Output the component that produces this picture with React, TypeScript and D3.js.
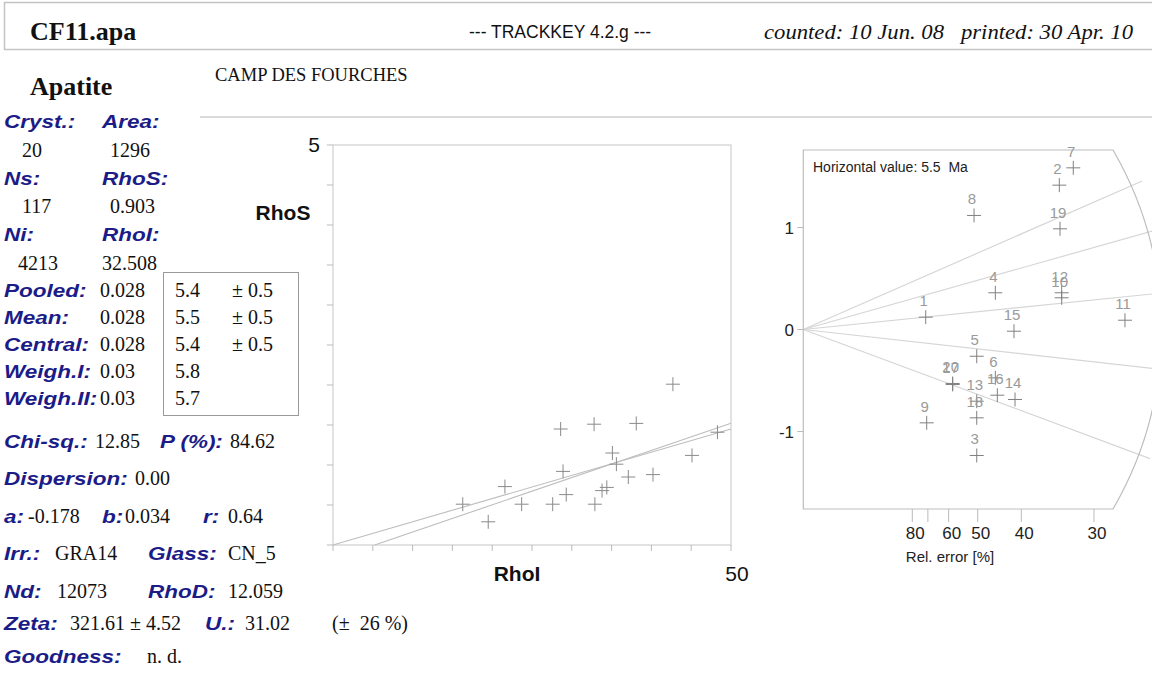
import React from "react";
import * as d3 from "d3";

// ---------- data ----------
const sampleName = "CF11.apa";
const programName = "--- TRACKKEY 4.2.g ---";
const datesText = "counted: 10 Jun. 08   printed: 30 Apr. 10";
const mineral = "Apatite";
const locality = "CAMP DES FOURCHES";

// scatter RhoI (x) vs RhoS (y), one entry per crystal
const grainRhoI = [16.3, 19.5, 21.6, 23.7, 27.6, 28.6, 28.9, 29.3, 32.8, 32.9, 33.8, 34.4, 35.1, 35.6, 37.1, 38.1, 40.2, 42.7, 45.1, 48.3];
const grainRhoS = [0.51, 0.29, 0.73, 0.51, 0.51, 1.45, 0.92, 0.63, 1.51, 0.51, 0.68, 0.72, 1.15, 1.01, 0.85, 1.52, 0.88, 2.01, 1.12, 1.41];
const regA = -0.178;
const regB = 0.034;
const originSlope = 0.029;
const scatterYTicks = [0, 0.5, 1, 1.5, 2, 2.5, 3, 3.5, 4, 4.5, 5];
const scatterXTicks = [0, 5, 10, 15, 20, 25, 30, 35, 40, 45, 50];

// radial plot
const radialIds = [1, 2, 3, 4, 5, 6, 7, 8, 9, 10, 11, 12, 13, 14, 15, 16, 17, 18, 19, 20];
const radialPrecision = [1.404, 2.936, 1.989, 2.202, 1.989, 2.202, 3.096, 1.958, 1.415, 2.963, 3.689, 2.963, 1.989, 2.428, 2.416, 2.225, 1.713, 1.989, 2.944, 1.713];
const radialZ = [0.121, 1.415, -1.235, 0.36, -0.262, -0.474, 1.585, 1.118, -0.915, 0.311, 0.091, 0.36, -0.703, -0.686, -0.017, -0.644, -0.539, -0.866, 0.987, -0.529];
const horizontalAge = 5.5;
const rayAges = [4, 5, 6, 7, 8];
const relErrTicks = [80, 70, 60, 50, 40, 30];
const relErrLabeled = [80, 60, 50, 40, 30];
const radialYTicks = [-1, 0, 1];

// left panel text
const topPairs = [
  { l1: "Cryst.:", l2: "Area:", v1: "20", v2: "1296" },
  { l1: "Ns:", l2: "RhoS:", v1: "117", v2: "0.903" },
  { l1: "Ni:", l2: "RhoI:", v1: "4213", v2: "32.508" },
];
const ageRows = [
  { label: "Pooled:", ratio: "0.028", age: "5.4", err: "± 0.5" },
  { label: "Mean:", ratio: "0.028", age: "5.5", err: "± 0.5" },
  { label: "Central:", ratio: "0.028", age: "5.4", err: "± 0.5" },
  { label: "Weigh.I:", ratio: "0.03", age: "5.8", err: "" },
  { label: "Weigh.II:", ratio: "0.03", age: "5.7", err: "" },
];

const NAVY = "#1c1c88";
const SANS = "'Liberation Sans', Arial, sans-serif";
const SERIF = "'Liberation Serif', 'Times New Roman', serif";

function Lbl({ x, y, children }: { x: number; y: number; children: React.ReactNode }) {
  return (
    <text
      transform={`translate(${x},${y}) scale(1.25,1)`}
      fontFamily={SANS}
      fontWeight="bold"
      fontStyle="italic"
      fontSize={18}
      fill={NAVY}
    >
      {children}
    </text>
  );
}
function Val({ x, y, children }: { x: number; y: number; children: React.ReactNode }) {
  return (
    <text x={x} y={y} fontFamily={SERIF} fontSize={20} fill="#111" style={{ whiteSpace: "pre" }}>
      {children}
    </text>
  );
}

function Cross({ x, y, s, color }: { x: number; y: number; s: number; color: string }) {
  return (
    <path d={`M${x - s},${y}H${x + s}M${x},${y - s}V${y + s}`} stroke={color} strokeWidth={1} fill="none" />
  );
}

export default function App() {
  // scatter scales
  const xS = d3.scaleLinear().domain([0, 50]).range([333, 731]);
  const yS = d3.scaleLinear().domain([0, 5]).range([545, 145]);
  const line = d3
    .line<[number, number]>()
    .x((d) => xS(d[0]))
    .y((d) => yS(d[1]));
  const regStart = -regA / regB;
  const regPath = line([
    [regStart, 0],
    [50, regA + regB * 50],
  ]);
  const originPath = line([
    [0, 0],
    [50, originSlope * 50],
  ]);

  // radial scales
  const xR = d3.scaleLinear().domain([0, 4]).range([803.3, 803.3 + 4 * 87.2]);
  const yR = d3.scaleLinear().domain([-1, 1]).range([431.5, 227.5]);
  const cx = xR(0);
  const cy = yR(0);
  const frameTop = yR(1.76);
  const frameBot = yR(-1.76);
  const arcR = 358;
  const dxTop = Math.sqrt(arcR * arcR - (cy - frameTop) ** 2);
  const dxBot = Math.sqrt(arcR * arcR - (frameBot - cy) ** 2);
  const frame = d3.path();
  frame.moveTo(cx, frameTop);
  frame.lineTo(cx + dxTop, frameTop);
  frame.arc(cx, cy, arcR, Math.atan2(frameTop - cy, dxTop), Math.atan2(frameBot - cy, dxBot), false);
  frame.lineTo(cx, frameBot);
  frame.closePath();

  const rays = rayAges.map((t) => {
    const s = Math.log(t / horizontalAge);
    const px = xR(1) - xR(0);
    const py = yR(s) - yR(0);
    const len = Math.hypot(px, py);
    const L = 370;
    return { x2: cx + (px / len) * L, y2: cy + (py / len) * L };
  });

  const rowYTop = [128, 185, 241];
  const valYTop = [157, 213, 270];
  const ageY = [297, 324, 351, 378, 405];

  return (
    <svg
      width={1152}
      height={686}
      style={{ position: "fixed", left: 0, top: 0, background: "#fff" }}
    >
      <rect x={0} y={0} width={1152} height={686} fill="#fff" />
      {/* header */}
      <rect x={4.5} y={2.5} width={1160} height={47} fill="none" stroke="#c4c4c4" strokeWidth={1.5} />
      <text x={30} y={40} fontFamily={SERIF} fontWeight="bold" fontSize={26} fill="#111">
        {sampleName}
      </text>
      <text x={469} y={38} fontFamily={SANS} fontSize={17.5} fill="#111">
        {programName}
      </text>
      <text
        x={764}
        y={39}
        fontFamily={SERIF}
        fontStyle="italic"
        fontSize={20}
        fill="#111"
        textLength={369}
        lengthAdjust="spacingAndGlyphs"
        style={{ whiteSpace: "pre" }}
      >
        {datesText}
      </text>
      <text x={30} y={95} fontFamily={SERIF} fontWeight="bold" fontSize={26} fill="#111">
        {mineral}
      </text>
      <text x={215} y={81} fontFamily={SERIF} fontSize={18.5} fill="#111">
        {locality}
      </text>
      <line x1={200} x2={1152} y1={117} y2={117} stroke="#cfcfcf" strokeWidth={1.5} />

      {/* left panel */}
      {topPairs.map((p, i) => (
        <g key={p.l1}>
          <Lbl x={4} y={rowYTop[i]}>{p.l1}</Lbl>
          <Lbl x={102} y={rowYTop[i]}>{p.l2}</Lbl>
          <Val x={i === 2 ? 18 : 22} y={valYTop[i]}>{p.v1}</Val>
          <Val x={i === 2 ? 102 : 110} y={valYTop[i]}>{p.v2}</Val>
        </g>
      ))}
      <rect x={163.5} y={272.5} width={135} height={143} fill="none" stroke="#999" strokeWidth={1} />
      {ageRows.map((r, i) => (
        <g key={r.label}>
          <Lbl x={4} y={ageY[i]}>{r.label}</Lbl>
          <Val x={100} y={ageY[i]}>{r.ratio}</Val>
          <Val x={175} y={ageY[i]}>{r.age}</Val>
          {r.err && <Val x={232} y={ageY[i]}>{r.err}</Val>}
        </g>
      ))}
      <Lbl x={4} y={448}>Chi-sq.:</Lbl>
      <Val x={95} y={448}>12.85</Val>
      <Lbl x={160} y={448}>P (%):</Lbl>
      <Val x={230} y={448}>84.62</Val>

      <Lbl x={4} y={485}>Dispersion:</Lbl>
      <Val x={135} y={485}>0.00</Val>

      <Lbl x={4} y={523}>a:</Lbl>
      <Val x={28} y={523}>-0.178</Val>
      <Lbl x={102} y={523}>b:</Lbl>
      <Val x={125} y={523}>0.034</Val>
      <Lbl x={203} y={523}>r:</Lbl>
      <Val x={228} y={523}>0.64</Val>

      <Lbl x={4} y={560}>Irr.:</Lbl>
      <Val x={55} y={560}>GRA14</Val>
      <Lbl x={148} y={560}>Glass:</Lbl>
      <Val x={228} y={560}>CN_5</Val>

      <Lbl x={4} y={598}>Nd:</Lbl>
      <Val x={57} y={598}>12073</Val>
      <Lbl x={148} y={598}>RhoD:</Lbl>
      <Val x={228} y={598}>12.059</Val>

      <Lbl x={4} y={630}>Zeta:</Lbl>
      <Val x={70} y={630}>321.61 ± 4.52</Val>
      <Lbl x={205} y={630}>U.:</Lbl>
      <Val x={245} y={630}>31.02</Val>
      <Val x={332} y={630}>(±  26 %)</Val>

      <Lbl x={4} y={663}>Goodness:</Lbl>
      <Val x={147} y={663}>n. d.</Val>

      {/* scatter plot */}
      <g>
        <rect x={xS(0)} y={yS(5)} width={xS(50) - xS(0)} height={yS(0) - yS(5)} fill="none" stroke="#cfcfcf" strokeWidth={1.2} />
        {scatterYTicks.map((t) => (
          <line key={"y" + t} x1={xS(0) - 6} x2={xS(0)} y1={yS(t)} y2={yS(t)} stroke="#bbb" />
        ))}
        {scatterXTicks.map((t) => (
          <line key={"x" + t} x1={xS(t)} x2={xS(t)} y1={yS(0)} y2={yS(0) + 6} stroke="#bbb" />
        ))}
        <path d={originPath || ""} stroke="#bdbdbd" fill="none" strokeWidth={1.1} />
        <path d={regPath || ""} stroke="#bdbdbd" fill="none" strokeWidth={1.1} />
        {grainRhoI.map((v, i) => (
          <Cross key={i} x={xS(v)} y={yS(grainRhoS[i])} s={7} color="#8a8a8a" />
        ))}
        <text x={314} y={152} textAnchor="middle" fontFamily={SANS} fontSize={21} fill="#111">
          {scatterYTicks[scatterYTicks.length - 1]}
        </text>
        <text x={283} y={220} textAnchor="middle" fontFamily={SANS} fontWeight="bold" fontSize={21} fill="#111">
          RhoS
        </text>
        <text x={517} y={581} textAnchor="middle" fontFamily={SANS} fontWeight="bold" fontSize={21} fill="#111">
          RhoI
        </text>
        <text x={737} y={581} textAnchor="middle" fontFamily={SANS} fontSize={21} fill="#111">
          {scatterXTicks[scatterXTicks.length - 1]}
        </text>
      </g>

      {/* radial plot */}
      <g>
        {rays.map((r, i) => (
          <line key={i} x1={cx} y1={cy} x2={r.x2} y2={r.y2} stroke="#d6d6d6" strokeWidth={1.2} />
        ))}
        <path d={frame.toString()} fill="none" stroke="#bdbdbd" strokeWidth={1.2} />
        {radialYTicks.map((t) => (
          <g key={t}>
            <line x1={cx - 6} x2={cx} y1={yR(t)} y2={yR(t)} stroke="#bbb" />
            <text x={794} y={yR(t) + 6} textAnchor="end" fontFamily={SANS} fontSize={17} fill="#222">
              {t}
            </text>
          </g>
        ))}
        {relErrTicks.map((e) => (
          <line key={e} x1={xR(100 / e)} x2={xR(100 / e)} y1={frameBot} y2={frameBot + 13} stroke="#bbb" />
        ))}
        {relErrLabeled.map((e) => (
          <text key={e} x={xR(100 / e) + 3} y={539} textAnchor="middle" fontFamily={SANS} fontSize={17} fill="#222">
            {e}
          </text>
        ))}
        <text x={950} y={562} textAnchor="middle" fontFamily={SANS} fontSize={15} fill="#222">
          Rel. error [%]
        </text>
        <text x={813} y={172} fontFamily={SANS} fontSize={14} fill="#222" style={{ whiteSpace: "pre" }}>
          {`Horizontal value: ${horizontalAge}  Ma`}
        </text>
        {radialIds.map((id, i) => {
          const x = xR(radialPrecision[i]);
          const y = yR(radialZ[i]);
          return (
            <g key={id}>
              <Cross x={x} y={y} s={7} color="#808080" />
              <text x={x - 2} y={y - 11} textAnchor="middle" fontFamily={SANS} fontSize={15} fill="#9a9a9a">
                {id}
              </text>
            </g>
          );
        })}
      </g>
    </svg>
  );
}
